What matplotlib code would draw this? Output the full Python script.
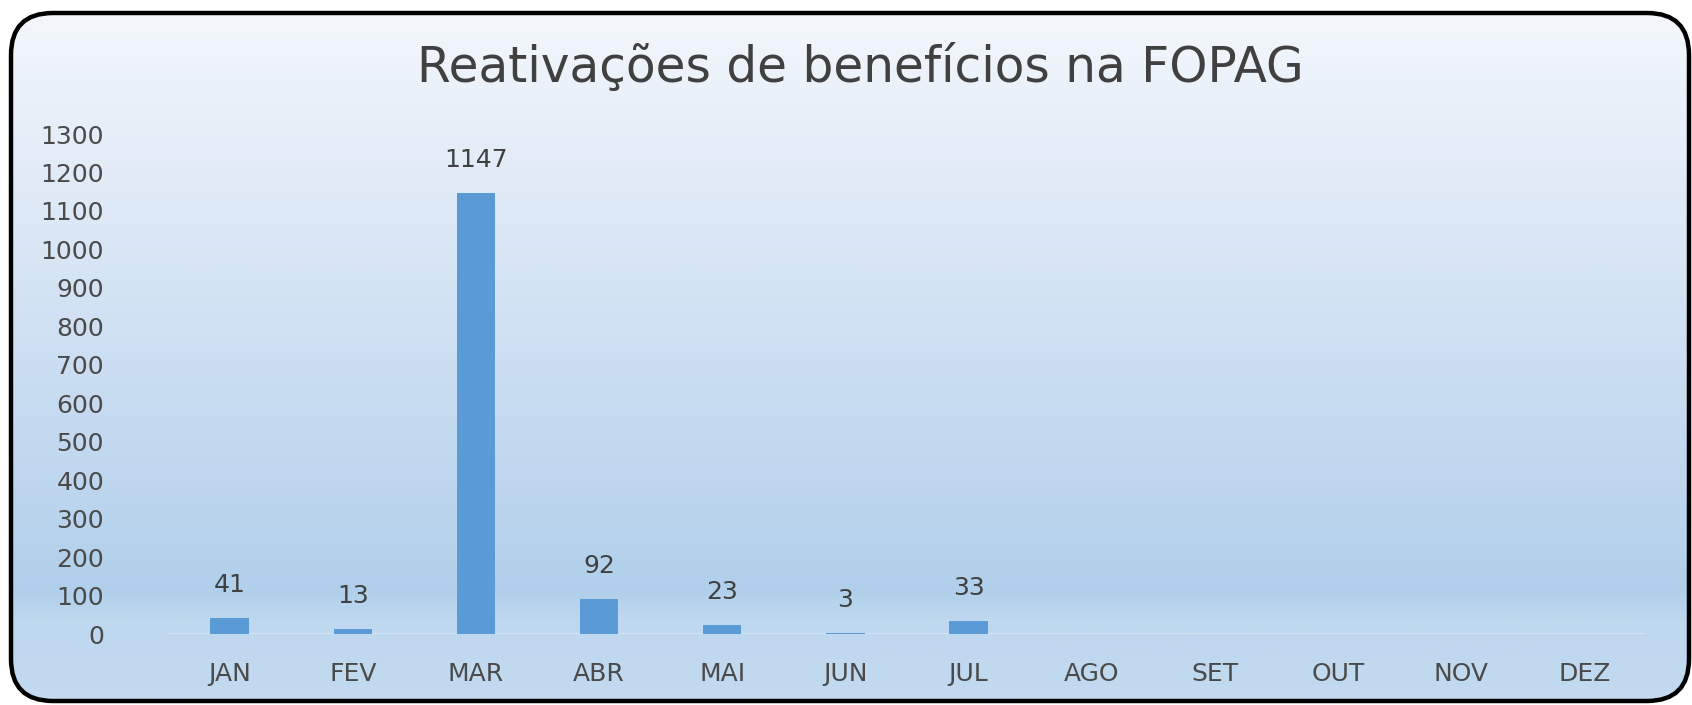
import matplotlib
matplotlib.use("Agg")
import matplotlib.pyplot as plt
import numpy as np
from matplotlib.patches import FancyBboxPatch
from matplotlib.colors import LinearSegmentedColormap

# monthly reactivations
meses = ["JAN", "FEV", "MAR", "ABR", "MAI", "JUN", "JUL", "AGO", "SET", "OUT", "NOV", "DEZ"]
reativacoes = [41, 13, 1147, 92, 23, 3, 33]
titulo = "Reativações de benefícios na FOPAG"

W, H = 1692, 705
fig = plt.figure(figsize=(W / 100, H / 100), dpi=100)
fig.patch.set_facecolor("white")

# background layer in pixel units: rounded frame with a vertical gradient
bg = fig.add_axes([0, 0, 1, 1])
bg.set_xlim(0, W)
bg.set_ylim(H, 0)
bg.axis("off")

cmap = LinearSegmentedColormap.from_list("fundo", [
    (0.00, "#f5f8fc"),
    (0.15, "#e9f0f9"),
    (0.50, "#cddff2"),
    (0.84, "#b1cfeb"),
    (0.88, "#bed8ef"),
    (1.00, "#c3daef"),
])
grad = np.linspace(0, 1, 400).reshape(-1, 1)
box = (11, 13, 1678, 688)
img = bg.imshow(grad, extent=(0, W, H, 0), aspect="auto", cmap=cmap, zorder=1)
clip = FancyBboxPatch(box[:2], box[2], box[3], boxstyle="round,pad=0,rounding_size=42",
                      facecolor="none", edgecolor="none", transform=bg.transData)
bg.add_patch(clip)
img.set_clip_path(clip)
frame = FancyBboxPatch(box[:2], box[2], box[3], boxstyle="round,pad=0,rounding_size=42",
                       facecolor="none", edgecolor="black", linewidth=3.2, zorder=3)
bg.add_patch(frame)

bg.text(860, 82, titulo, ha="center", va="baseline", fontsize=35, color="#404040")

# plot area
ax = fig.add_axes([168 / W, (H - 634) / H, 1478 / W, 500 / H])
ax.set_facecolor("none")
for s in ax.spines.values():
    s.set_visible(False)

x = np.arange(len(meses))
bars = ax.bar(x[:len(reativacoes)], reativacoes, width=0.31, color="#5b9bd5", zorder=3)
ax.bar_label(bars, padding=15, fontsize=18, color="#404040")
ax.axhline(0, color="#d3e3f3", linewidth=1.5, zorder=2)

ax.set_xlim(-0.5, len(meses) - 0.5)
ax.set_ylim(0, 1300)
ax.set_yticks(np.arange(0, 1301, 100))
ax.set_xticks(x, meses)
ax.tick_params(axis="y", length=0, pad=46, labelsize=18, labelcolor="#4a4a4a")
ax.tick_params(axis="x", length=0, pad=20, labelsize=18, labelcolor="#4a4a4a")

fig.savefig("out.png", dpi=100)
